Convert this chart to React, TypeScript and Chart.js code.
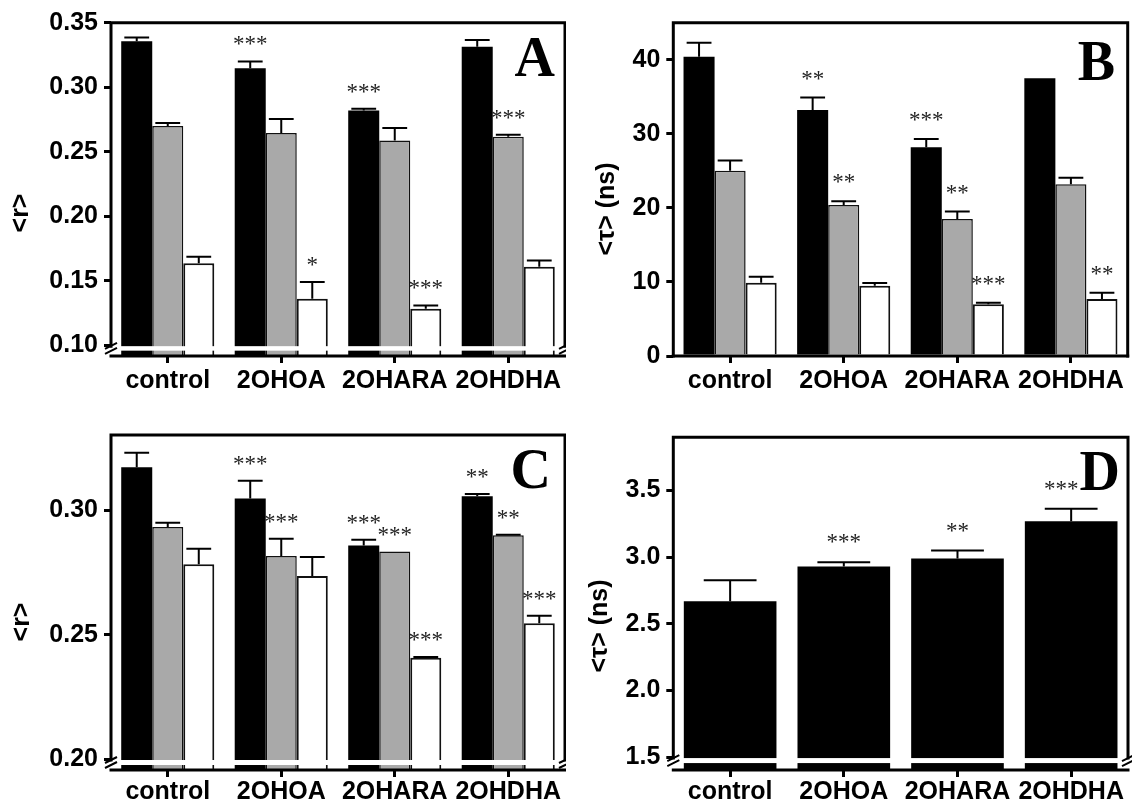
import React, { useEffect, useRef } from 'react';
import { Chart, registerables } from 'chart.js';

Chart.register(...registerables);

// ---------- shared ----------
const categories = ['control', '2OHOA', '2OHARA', '2OHDHA'];

// ---------- Panel A : <r> ----------
const aBlack = [0.3356, 0.3146, 0.282, 0.3314];
const aBlackErr = [0.003, 0.0054, 0.0013, 0.0052];
const aBlackStars = ['', '***', '***', ''];
const aGrey = [0.2699, 0.2644, 0.2587, 0.2616];
const aGreyErr = [0.0023, 0.0109, 0.0096, 0.0016];
const aGreyStars = ['', '', '', '***'];
const aWhite = [0.1635, 0.1359, 0.1282, 0.1607];
const aWhiteErr = [0.0051, 0.013, 0.0026, 0.005];
const aWhiteStars = ['', '*', '***', ''];
const aTicks = [0.1, 0.15, 0.2, 0.25, 0.3, 0.35];

// ---------- Panel B : <tau> (ns) ----------
const bBlack = [40.4, 33.2, 28.2, 37.5];
const bBlackErr = [1.9, 1.7, 1.1, 0];
const bBlackStars = ['', '**', '***', ''];
const bGrey = [25.0, 20.4, 18.5, 23.2];
const bGreyErr = [1.4, 0.5, 1.0, 0.85];
const bGreyStars = ['', '**', '**', ''];
const bWhite = [9.9, 9.5, 7.0, 7.7];
const bWhiteErr = [0.8, 0.35, 0.2, 0.85];
const bWhiteStars = ['', '', '***', '**'];
const bTicks = [0, 10, 20, 30, 40];

// ---------- Panel C : <r> ----------
const cBlack = [0.3173, 0.3048, 0.2859, 0.3057];
const cBlackErr = [0.0059, 0.0071, 0.0023, 0.0009];
const cBlackStars = ['', '***', '***', '**'];
const cGrey = [0.2933, 0.2816, 0.2834, 0.29];
const cGreyErr = [0.0017, 0.007, 0, 0.0002];
const cGreyStars = ['', '***', '***', '**'];
const cWhite = [0.2783, 0.2736, 0.2407, 0.2546];
const cWhiteErr = [0.0063, 0.0076, 0.0003, 0.003];
const cWhiteStars = ['', '', '***', '***'];
const cTicks = [0.2, 0.25, 0.3];

// ---------- Panel D : <tau> (ns) ----------
const dVals = [2.67, 2.93, 2.99, 3.27];
const dErr = [0.157, 0.033, 0.06, 0.093];
const dStars = ['', '***', '**', '***'];
const dTicks = [1.5, 2.0, 2.5, 3.0, 3.5];

const BLACK = '#000000';
const GREY = '#a9a9a9';
const WHITE = '#ffffff';

interface DS {
  data: number[];
  err: number[];
  stars: string[];
  color: string;
  borderWidth: number;
}

interface PanelCfg {
  datasets: DS[];
  yMin: number;
  yMax: number;
  yTicks: number[];
  decimals: number;
  yTitle: string;
  titleX: number;
  titleY: number;
  letter: string;
  letterX: number;
  letterY: number;
  area: { left: number; right: number; top: number; bottom: number };
  breakAt?: number;
  bandH?: number;
  capFrac: number;
  starOffset: number;
  starDx?: number[];
  catPct: number;
  labelPad: number;
}

const W = 566;
const H = 405;

const panelA: PanelCfg = {
  datasets: [
    { data: aBlack, err: aBlackErr, stars: aBlackStars, color: BLACK, borderWidth: 0 },
    { data: aGrey, err: aGreyErr, stars: aGreyStars, color: GREY, borderWidth: 1.5 },
    { data: aWhite, err: aWhiteErr, stars: aWhiteStars, color: WHITE, borderWidth: 2 },
  ],
  yMin: 0.0916,
  yMax: 0.35,
  yTicks: aTicks,
  decimals: 2,
  yTitle: '<r>',
  titleX: 21,
  titleY: 213,
  letter: 'A',
  letterX: 555,
  letterY: 76,
  area: { left: 111, right: 565, top: 22.7, bottom: 356 },
  breakAt: 0.1,
  bandH: 4.5,
  capFrac: 0.8,
  starOffset: 10,
  catPct: 0.82,
  labelPad: 3,
};

const panelB: PanelCfg = {
  datasets: [
    { data: bBlack, err: bBlackErr, stars: bBlackStars, color: BLACK, borderWidth: 0 },
    { data: bGrey, err: bGreyErr, stars: bGreyStars, color: GREY, borderWidth: 1.5 },
    { data: bWhite, err: bWhiteErr, stars: bWhiteStars, color: WHITE, borderWidth: 2 },
  ],
  yMin: 0,
  yMax: 45,
  yTicks: bTicks,
  decimals: 0,
  yTitle: '<τ> (ns)',
  titleX: 41,
  titleY: 209,
  letter: 'B',
  letterX: 549,
  letterY: 80,
  area: { left: 107.3, right: 561.7, top: 22.7, bottom: 356 },
  capFrac: 0.8,
  starOffset: 12,
  catPct: 0.82,
  labelPad: 3,
};

const panelC: PanelCfg = {
  datasets: [
    { data: cBlack, err: cBlackErr, stars: cBlackStars, color: BLACK, borderWidth: 0 },
    { data: cGrey, err: cGreyErr, stars: cGreyStars, color: GREY, borderWidth: 1.5 },
    { data: cWhite, err: cWhiteErr, stars: cWhiteStars, color: WHITE, borderWidth: 2 },
  ],
  yMin: 0.19558,
  yMax: 0.3303,
  yTicks: cTicks,
  decimals: 2,
  yTitle: '<r>',
  titleX: 22,
  titleY: 217,
  letter: 'C',
  letterX: 551,
  letterY: 83,
  area: { left: 111, right: 565, top: 30, bottom: 365 },
  breakAt: 0.2,
  bandH: 5,
  capFrac: 0.8,
  starOffset: 10,
  catPct: 0.82,
  labelPad: 0,
};

const panelD: PanelCfg = {
  datasets: [{ data: dVals, err: dErr, stars: dStars, color: BLACK, borderWidth: 0 }],
  yMin: 1.403,
  yMax: 3.9,
  yTicks: dTicks,
  decimals: 1,
  yTitle: '<τ> (ns)',
  titleX: 34,
  titleY: 221,
  letter: 'D',
  letterX: 554,
  letterY: 85,
  area: { left: 107.3, right: 562, top: 32.3, bottom: 365 },
  breakAt: 1.5,
  bandH: 5,
  capFrac: 0.57,
  starOffset: 13,
  starDx: [0, 0, 0, -10],
  catPct: 0.815,
  labelPad: 0,
};

const FONT = 'Liberation Sans';

function Panel({ cfg, x, y }: { cfg: PanelCfg; x: number; y: number }) {
  const ref = useRef<HTMLCanvasElement>(null);

  useEffect(() => {
    const canvas = ref.current;
    if (!canvas) return;

    const deco = {
      id: 'deco',
      afterDraw(chart: any) {
        const { ctx, chartArea } = chart;
        const { left, right, top, bottom } = chartArea;
        const ys = chart.scales.y;
        ctx.save();

        // error bars + significance stars
        cfg.datasets.forEach((ds, di) => {
          const meta = chart.getDatasetMeta(di);
          meta.data.forEach((el: any, i: number) => {
            const v = ds.data[i];
            const e = ds.err[i];
            const bx = el.x;
            const yTop = ys.getPixelForValue(v);
            const yCap = ys.getPixelForValue(v + e);
            if (e > 0) {
              const w = el.width * cfg.capFrac;
              ctx.strokeStyle = '#000';
              ctx.lineWidth = 2;
              ctx.lineCap = 'butt';
              ctx.beginPath();
              ctx.moveTo(bx, yTop);
              ctx.lineTo(bx, yCap);
              ctx.moveTo(bx - w / 2, yCap);
              ctx.lineTo(bx + w / 2, yCap);
              ctx.stroke();
            }
            const s = ds.stars[i];
            if (s) {
              ctx.fillStyle = '#222';
              ctx.font = '23px "Liberation Serif"';
              ctx.textAlign = 'center';
              ctx.textBaseline = 'alphabetic';
              const dx = cfg.starDx ? cfg.starDx[i] : 0;
              ctx.fillText(s, bx + dx, yCap - cfg.starOffset);
            }
          });
        });

        // axis break band
        let sideEnd = bottom;
        let bandTop = 0;
        if (cfg.breakAt !== undefined) {
          bandTop = ys.getPixelForValue(cfg.breakAt) + 1;
          ctx.fillStyle = '#fff';
          ctx.fillRect(left - 1, bandTop, right - left + 2, cfg.bandH || 4);
          sideEnd = bandTop;
        }

        // frame
        ctx.strokeStyle = '#000';
        ctx.lineWidth = 3;
        ctx.lineCap = 'square';
        ctx.beginPath();
        ctx.moveTo(left, sideEnd);
        ctx.lineTo(left, top);
        ctx.lineTo(right, top);
        ctx.lineTo(right, sideEnd);
        ctx.stroke();
        ctx.lineCap = 'butt';
        ctx.beginPath();
        ctx.moveTo(left - 1.5, bottom);
        ctx.lineTo(right + 1.5, bottom);
        ctx.stroke();

        // break marks
        if (cfg.breakAt !== undefined) {
          const mid = bandTop + (cfg.bandH || 4) / 2;
          ctx.lineWidth = 2;
          ctx.beginPath();
          for (const ex of [left, right]) {
            for (const d of [-2.5, 2.5]) {
              ctx.moveTo(ex - 6, mid + d + 3);
              ctx.lineTo(ex + 6, mid + d - 3);
            }
          }
          ctx.stroke();
        }

        // panel letter
        ctx.fillStyle = '#000';
        ctx.font = 'bold 56px "Liberation Serif"';
        ctx.textAlign = 'right';
        ctx.textBaseline = 'alphabetic';
        ctx.fillText(cfg.letter, cfg.letterX, cfg.letterY);

        // y title
        ctx.translate(cfg.titleX, cfg.titleY);
        ctx.rotate(-Math.PI / 2);
        ctx.font = `bold 25px "${FONT}"`;
        ctx.textAlign = 'center';
        ctx.textBaseline = 'middle';
        ctx.fillText(cfg.yTitle, 0, 0);

        ctx.restore();
      },
    };

    const tickFont = { family: FONT, size: 25, weight: 'bold' as const };

    const chart = new Chart(canvas, {
      type: 'bar',
      data: {
        labels: categories,
        datasets: cfg.datasets.map((ds) => ({
          data: ds.data,
          backgroundColor: ds.color,
          borderColor: '#111',
          borderWidth: ds.borderWidth,
          borderSkipped: 'start',
          categoryPercentage: cfg.catPct,
          barPercentage: 1,
        })),
      },
      options: {
        responsive: false,
        animation: false,
        layout: {
          padding: { left: 0, top: cfg.area.top, right: W - cfg.area.right, bottom: 0 },
        },
        plugins: { legend: { display: false }, tooltip: { enabled: false } },
        scales: {
          x: {
            type: 'category',
            offset: true,
            grid: {
              display: true,
              drawOnChartArea: false,
              drawTicks: true,
              tickLength: 7,
              lineWidth: 3,
              color: '#000',
              offset: false,
            },
            border: { display: false },
            ticks: {
              color: '#000',
              font: tickFont,
              padding: cfg.labelPad,
              maxRotation: 0,
              minRotation: 0,
              autoSkip: false,
            },
            afterFit: (s: any) => {
              s.height = H - cfg.area.bottom;
            },
          },
          y: {
            type: 'linear',
            min: cfg.yMin,
            max: cfg.yMax,
            grid: {
              display: true,
              drawOnChartArea: false,
              drawTicks: true,
              tickLength: 7,
              lineWidth: 3,
              color: '#000',
            },
            border: { display: false },
            ticks: {
              color: '#000',
              font: tickFont,
              padding: 6,
              callback: (v: any) => Number(v).toFixed(cfg.decimals),
            },
            afterBuildTicks: (s: any) => {
              s.ticks = cfg.yTicks.map((v) => ({ value: v }));
            },
            afterFit: (s: any) => {
              s.width = cfg.area.left;
            },
          },
        },
      } as any,
      plugins: [deco],
    });

    return () => chart.destroy();
  }, [cfg]);

  return (
    <canvas
      ref={ref}
      width={W}
      height={H}
      style={{ position: 'absolute', left: x, top: y, width: W, height: H }}
    />
  );
}

export default function App() {
  return (
    <div
      style={{
        position: 'absolute',
        left: 0,
        top: 0,
        width: 1132,
        height: 810,
        background: '#fff',
        overflow: 'hidden',
      }}
    >
      <Panel cfg={panelA} x={0} y={0} />
      <Panel cfg={panelB} x={566} y={0} />
      <Panel cfg={panelC} x={0} y={405} />
      <Panel cfg={panelD} x={566} y={405} />
    </div>
  );
}
